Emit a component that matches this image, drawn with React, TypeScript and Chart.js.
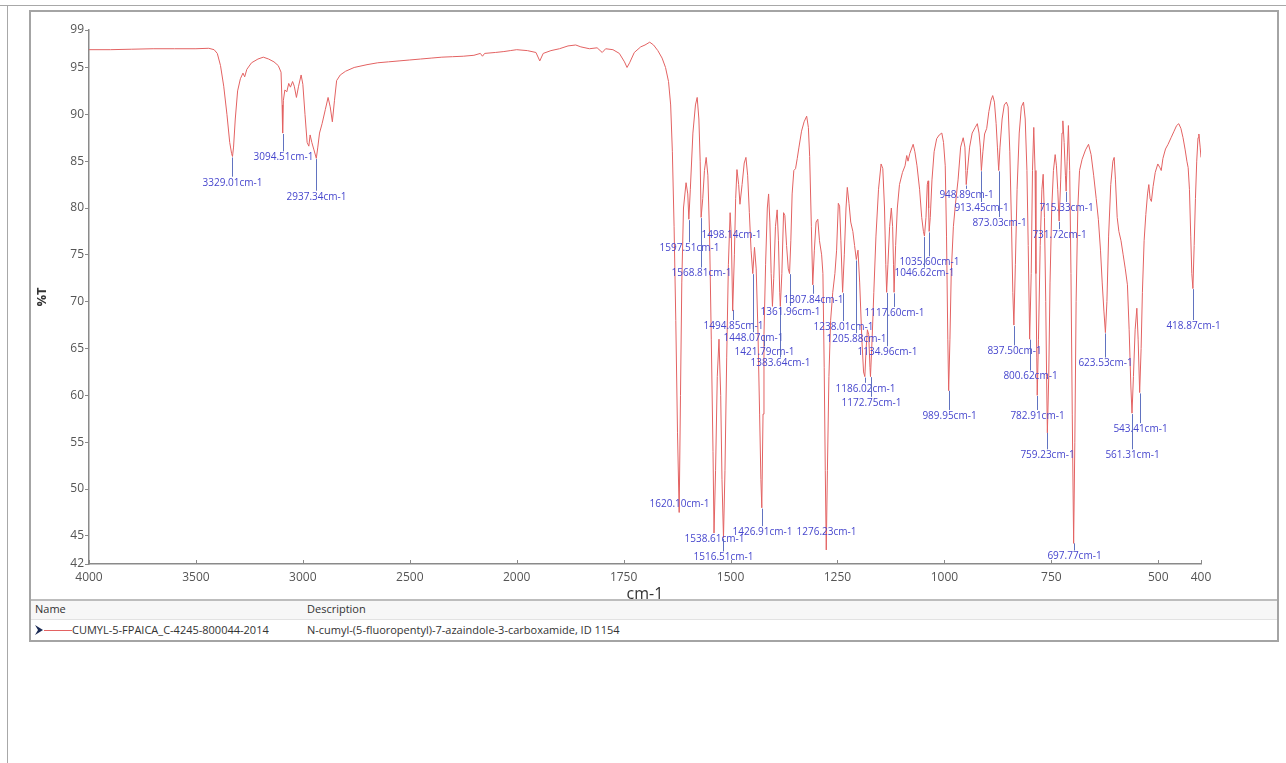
import React, { useEffect, useRef } from 'react';
import { Chart, registerables, LinearScale } from 'chart.js';

// ---------- data ----------
const wavenumbers: number[] = [
  4000, 3900, 3800, 3700, 3600, 3500, 3440, 3415, 3400, 3385, 3370, 3355, 3342, 3333, 3329, 3324, 3316, 3305, 3292, 3280,
  3272, 3262, 3240, 3210, 3185, 3160, 3135, 3115, 3102, 3097, 3094.5, 3091, 3084, 3075, 3066, 3058, 3048, 3040, 3030, 3020,
  3008, 3000, 2990, 2980, 2972, 2966, 2958, 2948, 2937, 2930, 2922, 2910, 2895, 2882, 2872, 2862, 2852, 2842, 2825, 2800,
  2760, 2700, 2650, 2600, 2550, 2500, 2450, 2400, 2350, 2300, 2250, 2200, 2170, 2160, 2150, 2100, 2060, 2030, 2000, 1975,
  1955, 1946, 1938, 1920, 1900, 1880, 1862, 1850, 1830, 1812, 1800, 1792, 1775, 1760, 1748, 1742, 1736, 1725, 1710, 1700,
  1689, 1680, 1670, 1660, 1652, 1645, 1640, 1636, 1632, 1628, 1624, 1620.1, 1617, 1614, 1610, 1604, 1600, 1597.5, 1594, 1588,
  1582, 1578, 1574, 1571, 1568.8, 1565, 1561, 1557, 1553, 1549, 1545, 1541, 1538.6, 1535, 1531, 1527, 1523, 1520, 1516.5, 1513,
  1509, 1505, 1501, 1498.1, 1495, 1491, 1488, 1485, 1481, 1478, 1473, 1468, 1464, 1460, 1456, 1452, 1448, 1444, 1440, 1436,
  1432, 1429, 1426.9, 1424, 1421.8, 1418, 1414, 1411, 1408, 1405, 1402, 1399, 1395, 1391, 1388, 1385, 1383.6, 1380, 1376, 1373,
  1369, 1365, 1362, 1359, 1356, 1352, 1348, 1344, 1340, 1334, 1328, 1322, 1318, 1315, 1311, 1307.8, 1304, 1300, 1296, 1292,
  1287, 1284, 1281, 1278.5, 1276.2, 1273.5, 1270, 1266, 1261, 1256, 1252, 1248, 1245, 1242, 1238, 1234, 1230, 1227, 1223, 1219,
  1214, 1210, 1205.9, 1202, 1198, 1193, 1189, 1186, 1183, 1180, 1177, 1174, 1172.8, 1169, 1165, 1160, 1154, 1148, 1144, 1140,
  1137, 1135, 1132, 1128, 1124, 1121, 1119, 1117.6, 1114, 1110, 1105, 1098, 1092, 1088, 1085, 1081, 1077, 1073, 1069, 1064,
  1058, 1053, 1049, 1046.6, 1043, 1040, 1038, 1036.8, 1035.6, 1033, 1029, 1024, 1018, 1012, 1006, 1002, 998, 995, 992, 990,
  987, 984, 979, 974, 968, 962, 956, 952, 950, 948.9, 946, 941, 935, 928, 923, 919, 916, 913.5, 910, 906,
  901, 896, 891, 887, 883, 879, 876, 873, 870, 865, 860, 855, 851, 847, 843, 840, 837.5, 834, 830, 825,
  820, 815, 811, 807, 804, 800.6, 797, 794, 791, 788, 786, 784, 782.9, 780, 776, 772, 769, 766, 763, 761,
  759.2, 756, 753, 749, 745, 741, 738, 735, 731.7, 728, 725, 723, 720, 717, 715.3, 713, 710, 707, 704, 701,
  697.8, 695, 692, 688, 684, 678, 670, 663, 657, 651, 645, 640, 635, 631, 627, 623.5, 620, 616, 611, 606,
  603, 600, 596, 592, 587, 582, 577, 572, 568, 564, 561.3, 558, 554, 550, 547, 543.4, 540, 537, 533, 529,
  525, 522, 519, 516, 512, 507, 501, 496, 493, 489, 483, 477, 470, 463, 457, 452, 447, 442, 437, 433,
  430, 427, 424, 421.5, 418.9, 416, 413, 410, 407, 405, 402, 400,
];

const transmittance: number[] = [
  96.9, 96.9, 96.95, 97.0, 97.0, 97.0, 97.05, 96.9, 96.5, 95.2, 93.0, 90.0, 87.0, 85.8, 85.5, 86.5, 89.5, 92.5, 93.8, 94.4,
  94.0, 94.8, 95.5, 95.9, 96.1, 95.9, 95.6, 95.2, 94.5, 91.0, 88.0, 91.5, 92.6, 92.4, 93.3, 92.9, 93.5, 93.0, 91.8, 93.0,
  94.2, 93.2, 90.0, 87.0, 86.6, 87.8, 87.0, 86.2, 85.3, 86.5, 88.0, 89.0, 90.5, 91.8, 90.8, 89.2, 91.5, 93.6, 94.2, 94.6,
  95.0, 95.3, 95.5, 95.6, 95.7, 95.8, 95.9, 96.0, 96.1, 96.15, 96.2, 96.3, 96.5, 96.2, 96.5, 96.6, 96.7, 96.8, 96.9, 96.8,
  96.6, 95.7, 96.5, 96.8, 97.0, 97.3, 97.4, 97.2, 97.0, 97.1, 96.6, 97.0, 96.9, 96.5, 95.6, 95.0, 95.5, 96.6, 97.2, 97.4,
  97.7, 97.4, 96.8, 96.0, 95.0, 93.5, 91.0, 86.0, 78.0, 68.0, 56.0, 47.5, 60.0, 72.0, 80.0, 82.7, 81.5, 78.8, 82.0, 88.0,
  91.0, 91.8, 89.5, 85.0, 79.0, 81.0, 84.0, 85.4, 83.5, 77.0, 66.0, 54.0, 45.3, 52.0, 62.0, 66.0, 60.0, 51.0, 44.8, 52.0,
  64.0, 74.0, 79.5, 77.0, 69.0, 75.0, 81.0, 84.1, 82.5, 80.4, 82.5, 84.8, 85.4, 83.5, 79.5, 75.5, 73.0, 75.8, 73.5, 67.0,
  58.0, 51.0, 48.0, 58.0, 66.5, 74.0, 80.0, 81.5, 78.5, 73.0, 69.5, 72.5, 78.0, 79.8, 76.5, 71.0, 69.5, 73.0, 79.5, 79.2,
  76.0, 73.5, 73.0, 76.5, 81.5, 84.0, 84.2, 85.3, 86.5, 88.2, 89.2, 89.8, 88.6, 85.5, 78.0, 71.8, 75.5, 78.5, 78.8, 76.5,
  75.0, 73.0, 63.0, 52.0, 43.5, 52.0, 62.0, 68.0, 71.0, 73.0, 75.5, 80.5, 80.2, 76.5, 71.0, 75.0, 80.0, 82.2, 80.5, 78.5,
  77.5, 76.0, 74.5, 75.5, 72.0, 66.0, 62.5, 62.0, 65.0, 67.0, 66.5, 63.0, 62.0, 66.0, 71.0, 77.0, 82.0, 84.7, 84.2, 80.0,
  74.0, 71.0, 74.0, 78.0, 80.0, 78.0, 74.0, 71.0, 76.0, 80.0, 82.5, 83.8, 84.5, 85.6, 85.0, 85.8, 86.3, 86.8, 86.0, 84.5,
  82.0, 79.0, 77.5, 77.0, 79.0, 82.5, 82.9, 80.0, 77.5, 79.0, 83.0, 86.0, 87.4, 87.8, 88.0, 87.0, 84.5, 77.0, 66.0, 60.5,
  66.0, 73.0, 78.0, 80.5, 83.0, 86.5, 87.5, 86.5, 84.0, 82.5, 84.0, 86.5, 88.0, 88.6, 89.0, 88.0, 86.5, 84.0, 86.0, 87.9,
  88.5, 90.3, 91.5, 92.0, 91.3, 89.0, 86.5, 84.0, 86.5, 89.5, 91.0, 91.3, 90.8, 86.0, 78.0, 71.0, 67.5, 74.0, 82.0, 88.0,
  90.8, 91.3, 89.5, 84.0, 76.0, 66.0, 73.0, 84.0, 88.6, 84.0, 73.0, 64.0, 60.0, 66.0, 76.0, 82.0, 83.6, 79.0, 70.0, 62.0,
  56.0, 62.0, 72.0, 80.0, 84.0, 85.7, 84.5, 82.0, 78.6, 83.0, 88.0, 89.3, 87.0, 83.5, 81.8, 85.0, 88.8, 84.0, 73.0, 58.0,
  44.2, 55.0, 70.0, 80.0, 84.0, 85.2, 86.2, 86.8, 85.7, 83.5, 81.0, 78.8, 75.5, 72.0, 69.0, 66.7, 70.0, 77.0, 82.5, 85.0,
  85.4, 83.0, 79.0, 77.5, 76.5, 75.0, 73.5, 71.8, 67.0, 61.0, 58.1, 62.0, 67.0, 69.3, 66.0, 60.3, 65.0, 71.0, 76.5, 79.3,
  81.5, 82.5, 81.0, 80.7, 82.3, 83.8, 84.7, 84.3, 84.0, 85.3, 86.3, 86.8, 87.5, 88.2, 88.8, 89.0, 88.5, 87.5, 86.2, 85.0,
  84.3, 82.0, 77.0, 73.0, 71.4, 76.0, 81.0, 85.0, 87.5, 87.9, 86.5, 85.4,
];

// labelled peaks (cm-1) and the %T level at which each label sits
const peakWavenumbers: number[] = [
  3329.01, 3094.51, 2937.34, 1620.1, 1597.51, 1568.81, 1538.61, 1516.51, 1498.14, 1494.85,
  1448.07, 1426.91, 1421.79, 1383.64, 1361.96, 1307.84, 1276.23, 1238.01, 1205.88, 1186.02,
  1172.75, 1134.96, 1117.6, 1046.62, 1035.6, 989.95, 948.89, 913.45, 873.03, 837.5,
  800.62, 782.91, 759.23, 731.72, 715.33, 697.77, 623.53, 561.31, 543.41, 418.87,
];
const peakLabelLevels: number[] = [
  82.7, 85.4, 81.2, 48.4, 75.7, 73.0, 44.7, 42.7, 77.1, 67.4,
  66.1, 45.4, 64.6, 63.4, 68.9, 70.2, 45.4, 67.3, 66.0, 60.7,
  59.2, 64.6, 68.8, 73.0, 74.2, 57.8, 81.4, 80.0, 78.4, 64.7,
  62.0, 57.8, 53.6, 77.1, 80.0, 42.8, 63.4, 53.6, 56.4, 67.4,
];

const xTickValues: number[] = [4000, 3500, 3000, 2500, 2000, 1750, 1500, 1250, 1000, 750, 500, 400];
const yTickValues: number[] = [99, 95, 90, 85, 80, 75, 70, 65, 60, 55, 50, 45, 42];

const seriesName = 'CUMYL-5-FPAICA_C-4245-800044-2014';
const seriesDescription = 'N-cumyl-(5-fluoropentyl)-7-azaindole-3-carboxamide, ID 1154';

// ---------- axis with a scale change at 2000 cm-1 (x2 below) ----------
const BREAK = 2000;
const toU = (w: number) => (w >= BREAK ? 4000 - w : 4000 - BREAK + (BREAK - w) * 2);
const fromU = (u: number) => (u <= 4000 - BREAK ? 4000 - u : BREAK - (u - (4000 - BREAK)) / 2);

class BrokenWavenumberScale extends LinearScale {
  static id = 'brokenWavenumber';
  static defaults = {};
  getPixelForValue(value: any) {
    if (value === null || value === undefined || isNaN(value)) return NaN;
    const u0 = toU((this as any).max);
    const u1 = toU((this as any).min);
    return this.getPixelForDecimal((toU(value) - u0) / (u1 - u0));
  }
  getValueForPixel(pixel: number) {
    const u0 = toU((this as any).max);
    const u1 = toU((this as any).min);
    return fromU(u0 + this.getDecimalForPixel(pixel) * (u1 - u0));
  }
}

Chart.register(...registerables, BrokenWavenumberScale as any);

const FONT = '"Open Sans", "DejaVu Sans", sans-serif';

function interpT(w: number): number {
  for (let i = 0; i < wavenumbers.length - 1; i++) {
    const a = wavenumbers[i];
    const b = wavenumbers[i + 1];
    if (w <= a && w >= b) {
      const t = a === b ? 0 : (a - w) / (a - b);
      return transmittance[i] + t * (transmittance[i + 1] - transmittance[i]);
    }
  }
  return transmittance[transmittance.length - 1];
}

const peakLabelPlugin = {
  id: 'peakLabels',
  afterDatasetsDraw(chart: any) {
    const { ctx, scales } = chart;
    const xs = scales.x;
    const ys = scales.y;
    ctx.save();
    ctx.font = `10px ${FONT}`;
    ctx.textAlign = 'center';
    ctx.textBaseline = 'middle';
    peakWavenumbers.forEach((w, i) => {
      const px = Math.round(xs.getPixelForValue(w)) + 0.5;
      const pyPeak = ys.getPixelForValue(interpT(w));
      const pyLabel = ys.getPixelForValue(peakLabelLevels[i]);
      ctx.strokeStyle = 'rgba(80,100,185,0.9)';
      ctx.lineWidth = 1;
      if (pyLabel - 6 > pyPeak + 1) {
        ctx.beginPath();
        ctx.moveTo(px, pyPeak + 1);
        ctx.lineTo(px, pyLabel - 6);
        ctx.stroke();
      }
      ctx.fillStyle = 'rgb(70,70,205)';
      ctx.fillText(`${w.toFixed(2)}cm-1`, px, pyLabel);
    });
    ctx.restore();
  },
};

const inwardTicksPlugin = {
  id: 'inwardTicks',
  afterDraw(chart: any) {
    const { ctx, scales } = chart;
    const xs = scales.x;
    ctx.save();
    ctx.strokeStyle = '#8a8a8a';
    ctx.lineWidth = 1;
    xTickValues.forEach((v) => {
      const px = Math.round(xs.getPixelForValue(v)) + 0.5;
      ctx.beginPath();
      ctx.moveTo(px, xs.top);
      ctx.lineTo(px, xs.top - 4);
      ctx.stroke();
    });
    ctx.restore();
  },
};

function SpectrumChart() {
  const ref = useRef<HTMLCanvasElement | null>(null);
  useEffect(() => {
    if (!ref.current) return;
    const chart = new Chart(ref.current, {
      type: 'line',
      data: {
        datasets: [
          {
            label: seriesName,
            data: wavenumbers.map((w, i) => ({ x: w, y: transmittance[i] })),
            borderColor: '#e36262',
            borderWidth: 1,
            pointRadius: 0,
            tension: 0,
            fill: false,
          },
        ],
      },
      options: {
        animation: false,
        responsive: false,
        maintainAspectRatio: false,
        events: [],
        layout: { padding: { top: 18, right: 76, left: 0, bottom: 0 } },
        plugins: { legend: { display: false }, tooltip: { enabled: false }, title: { display: false } },
        scales: {
          x: {
            type: 'brokenWavenumber' as any,
            min: 400,
            max: 4000,
            bounds: 'data',
            afterBuildTicks: (s: any) => {
              s.ticks = xTickValues.map((v) => ({ value: v }));
            },
            afterFit: (s: any) => {
              s.height = 40;
            },
            grid: { display: false, drawTicks: false },
            border: { display: true, color: '#8a8a8a', width: 1.5 },
            ticks: {
              autoSkip: false,
              maxRotation: 0,
              padding: 6,
              color: '#555',
              font: { family: FONT, size: 12 },
              callback: (v: any) => String(v),
            },
            title: {
              display: true,
              text: 'cm-1',
              color: '#333',
              padding: { top: 0, bottom: 0 },
              font: { family: FONT, size: 16 },
            },
          },
          y: {
            type: 'linear',
            min: 42,
            max: 99,
            afterBuildTicks: (s: any) => {
              s.ticks = yTickValues.map((v) => ({ value: v }));
            },
            afterFit: (s: any) => {
              s.width = 57;
            },
            grid: { drawOnChartArea: false, drawTicks: true, tickLength: 4, color: '#8a8a8a' },
            border: { display: true, color: '#8a8a8a', width: 1.5 },
            ticks: {
              autoSkip: false,
              padding: 1,
              color: '#555',
              font: { family: FONT, size: 12 },
              callback: (v: any) => String(v),
            },
            title: {
              display: true,
              text: '%T',
              color: '#333',
              padding: { top: 2, bottom: 0 },
              font: { family: FONT, size: 13, weight: 'bold' },
            },
          },
        },
      } as any,
      plugins: [peakLabelPlugin, inwardTicksPlugin],
    });
    return () => chart.destroy();
  }, []);
  return (
    <canvas
      ref={ref}
      width={1245}
      height={592}
      style={{ position: 'absolute', left: 32, top: 12, width: 1245, height: 592 }}
    />
  );
}

export default function App() {
  const text: React.CSSProperties = {
    position: 'absolute',
    fontFamily: FONT,
    fontSize: 11,
    color: '#333',
    whiteSpace: 'nowrap',
    lineHeight: '14px',
  };
  return (
    <div
      style={{
        position: 'absolute',
        left: 0,
        top: 0,
        width: 1286,
        height: 763,
        background: '#fff',
        overflow: 'hidden',
      }}
    >
      {/* window frame */}
      <div style={{ position: 'absolute', left: 0, top: 5, width: 1286, height: 1, background: '#a8a8a8' }} />
      <div style={{ position: 'absolute', left: 7, top: 5, width: 1, height: 758, background: '#a8a8a8' }} />
      {/* chart panel */}
      <div
        style={{
          position: 'absolute',
          left: 29,
          top: 10,
          width: 1246,
          height: 628,
          border: '2px solid #a4a4a4',
        }}
      />
      <SpectrumChart />
      {/* legend table */}
      <div style={{ position: 'absolute', left: 31, top: 599, width: 1246, height: 2, background: '#bdbdbd' }} />
      <div style={{ position: 'absolute', left: 31, top: 601, width: 1246, height: 18, background: '#f7f7f7' }} />
      <div style={{ position: 'absolute', left: 31, top: 619, width: 1246, height: 1, background: '#e2e2e2' }} />
      <div style={{ ...text, left: 35, top: 602 }}>Name</div>
      <div style={{ ...text, left: 307, top: 602 }}>Description</div>
      <svg style={{ position: 'absolute', left: 34, top: 624 }} width={40} height={12}>
        <path d="M1 1 L9 6 L1 11 L4 6 Z" fill="#1a2a55" />
        <line x1={10} y1={6.5} x2={38} y2={6.5} stroke="#e36262" strokeWidth={1} />
      </svg>
      <div style={{ ...text, left: 72, top: 623 }}>{seriesName}</div>
      <div style={{ ...text, left: 307, top: 623 }}>{seriesDescription}</div>
    </div>
  );
}
